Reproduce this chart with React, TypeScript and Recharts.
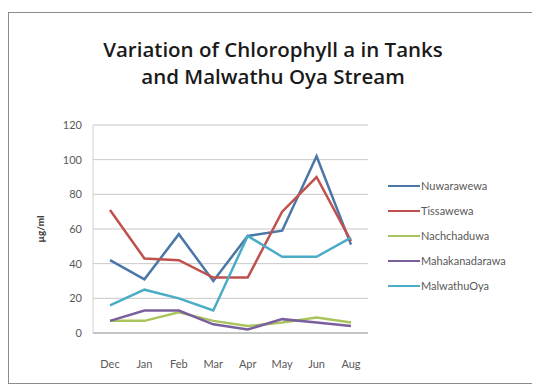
import React from 'react';
import { LineChart, Line, XAxis, YAxis, CartesianGrid } from 'recharts';

const months = ['Dec', 'Jan', 'Feb', 'Mar', 'Apr', 'May', 'Jun', 'Aug'];
const nuwarawewa = [42, 31, 57, 30, 56, 59, 102, 51];
const tissawewa = [71, 43, 42, 32, 32, 70, 90, 53];
const nachchaduwa = [7, 7, 12, 7, 4, 6, 9, 6];
const mahakanadarawa = [7, 13, 13, 5, 2, 8, 6, 4];
const malwathuOya = [16, 25, 20, 13, 56, 44, 44, 55];
const yTicks = [0, 20, 40, 60, 80, 100, 120];

const series = [
  { key: 'Nuwarawewa', values: nuwarawewa, color: '#4a76a8' },
  { key: 'Tissawewa', values: tissawewa, color: '#c0504d' },
  { key: 'Nachchaduwa', values: nachchaduwa, color: '#a9c45c' },
  { key: 'Mahakanadarawa', values: mahakanadarawa, color: '#7a5f9e' },
  { key: 'MalwathuOya', values: malwathuOya, color: '#4bacc6' },
];

const data = months.map((m, i) => {
  const row: { [k: string]: string | number } = { month: m };
  series.forEach(s => { row[s.key] = s.values[i]; });
  return row;
});

const font = 'Lato, "Open Sans", sans-serif';

// legend sits to the right of the plot, one row per series
const LegendList = () => (
  <div
    style={{
      position: 'absolute',
      left: 379,
      top: 160,
      fontFamily: font,
      fontSize: 11,
      color: '#595959',
    }}
  >
    {series.map(s => (
      <div key={s.key} style={{ display: 'flex', alignItems: 'center', height: 25 }}>
        <span style={{ display: 'inline-block', width: 32, height: 2, background: s.color }} />
        <span style={{ marginLeft: 1 }}>{s.key}</span>
      </div>
    ))}
  </div>
);

export default function App() {
  return (
    <div
      style={{
        position: 'relative',
        marginTop: 4,
        width: 531,
        height: 370,
        borderLeft: '1px solid #8c8c8c',
        borderTop: '1px solid #8c8c8c',
        borderBottom: '1px solid #8c8c8c',
        background: '#fff',
      }}
    >
      <div
        style={{
          position: 'absolute',
          left: 0,
          width: 528,
          top: 23,
          textAlign: 'center',
          fontFamily: '"Open Sans", sans-serif',
          fontWeight: 600,
          fontSize: 20.5,
          lineHeight: '27px',
          color: '#1a1a1a',
        }}
      >
        Variation of Chlorophyll a in Tanks
        <br />
        and Malwathu Oya Stream
      </div>
      <LineChart width={531} height={370} data={data} margin={{ top: 112, right: 172, bottom: 20, left: 0 }}>
        <CartesianGrid vertical={false} stroke="#c8c8c8" />
        <XAxis
          dataKey="month"
          height={30}
          padding={{ left: 17, right: 17 }}
          axisLine={{ stroke: '#a6a6a6' }}
          tickLine={false}
          tickMargin={21}
          tick={{ fill: '#595959', fontSize: 11, fontFamily: font }}
          interval={0}
        />
        <YAxis
          width={84}
          domain={[0, 120]}
          ticks={yTicks}
          interval={0}
          axisLine={{ stroke: '#d0d0d0' }}
          tickLine={false}
          tickMargin={5}
          tick={{ fill: '#595959', fontSize: 11, fontFamily: font }}
          label={{
            value: 'µg/ml',
            angle: -90,
            position: 'insideLeft',
            offset: 31,
            style: { textAnchor: 'middle', fontWeight: 700, fontSize: 10, fill: '#333', fontFamily: font },
          }}
        />
        {series.map(s => (
          <Line
            key={s.key}
            type="linear"
            dataKey={s.key}
            stroke={s.color}
            strokeWidth={2.5}
            dot={false}
            isAnimationActive={false}
          />
        ))}
      </LineChart>
      <LegendList />
    </div>
  );
}
